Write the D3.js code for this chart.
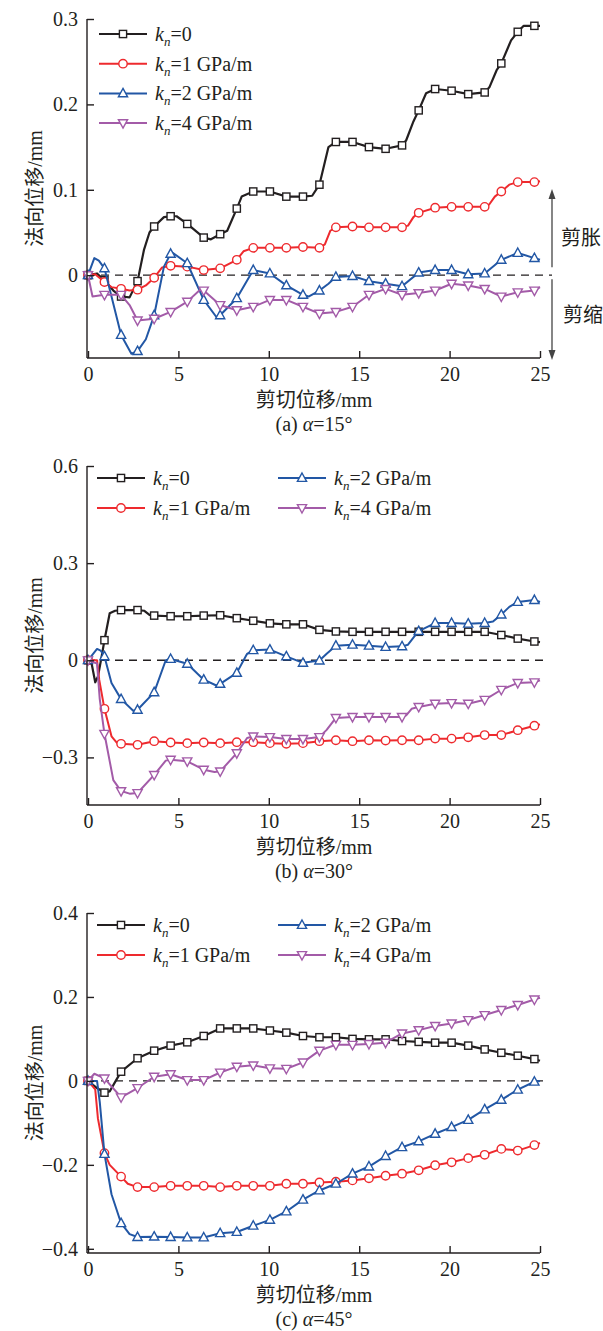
<!DOCTYPE html>
<html><head><meta charset="utf-8">
<script src="https://cdn.jsdelivr.net/npm/d3@7"></script>
<style>
html,body{margin:0;padding:0;background:#fff;}
</style></head>
<body><svg id="c" width="603" height="1331"></svg>
<script>
// shear displacement positions of markers (mm); last point is curve end
const xMarks = [0, 0.91, 1.83, 2.74, 3.66, 4.57, 5.49, 6.40, 7.31, 8.23, 9.14, 10.06, 10.97, 11.89, 12.80,
  13.71, 14.63, 15.54, 16.46, 17.37, 18.29, 19.20, 20.11, 21.03, 21.94, 22.86, 23.77, 24.69, 25];

const seriesNames = ["=0", "=1 GPa/m", "=2 GPa/m", "=4 GPa/m"];

// (a) alpha = 15°
const a_k0 = [0, -0.006, -0.025, -0.007, 0.057, 0.069, 0.060, 0.044, 0.048, 0.078, 0.098, 0.098, 0.092, 0.092, 0.106,
  0.156, 0.156, 0.150, 0.148, 0.152, 0.193, 0.218, 0.216, 0.212, 0.214, 0.248, 0.285, 0.292, 0.292];
const a_k0_detail = [[0.5,0.002],[1.4,-0.018],[2.3,-0.026],[3.1,0.03],[3.4,0.05],[4.2,0.068],[4.9,0.069],[6.8,0.042],
  [7.7,0.052],[8.5,0.092],[12.4,0.093],[13.3,0.15],[17.6,0.158],[18.0,0.18],[18.7,0.213],[22.2,0.22],[22.6,0.24],[23.4,0.275],[24.1,0.292]];
const a_k1 = [0, -0.008, -0.016, -0.017, -0.003, 0.011, 0.010, 0.006, 0.008, 0.018, 0.032, 0.032, 0.032, 0.033, 0.032,
  0.056, 0.057, 0.056, 0.056, 0.056, 0.073, 0.079, 0.080, 0.080, 0.080, 0.098, 0.109, 0.109, 0.110];
const a_k1_detail = [[0.4,0.001],[1.3,-0.014],[2.3,-0.018],[3.2,-0.012],[4.1,0.009],[8.6,0.028],[13.1,0.036],[13.4,0.052],
  [17.7,0.058],[18.0,0.068],[22.2,0.083],[22.5,0.092],[23.3,0.106]];
const a_k2 = [0, 0.008, -0.070, -0.089, -0.047, 0.025, 0.014, -0.029, -0.047, -0.027, 0.006, 0.002, -0.012, -0.023, -0.018,
  -0.002, -0.001, -0.007, -0.010, -0.013, 0.003, 0.006, 0.006, 0.001, 0.002, 0.018, 0.026, 0.020, 0.018];
const a_k2_detail = [[0.35,0.02],[0.6,0.017],[1.3,-0.025],[2.4,-0.092],[3.2,-0.075],[4.2,0.01],[4.7,0.026],[7.1,-0.049],[12.2,-0.025],[13.3,-0.01]];
const a_k4 = [0, -0.023, -0.023, -0.053, -0.051, -0.043, -0.031, -0.018, -0.035, -0.041, -0.037, -0.029, -0.029, -0.037, -0.045,
  -0.043, -0.037, -0.023, -0.016, -0.023, -0.021, -0.018, -0.010, -0.012, -0.016, -0.025, -0.020, -0.018, -0.014];
const a_k4_detail = [[0.25,-0.025],[2.3,-0.035],[6.2,-0.017]];

// (b) alpha = 30°
const b_k0 = [0, 0.062, 0.155, 0.155, 0.138, 0.136, 0.136, 0.138, 0.139, 0.130, 0.122, 0.114, 0.111, 0.111, 0.094,
  0.089, 0.088, 0.088, 0.088, 0.088, 0.088, 0.088, 0.088, 0.088, 0.088, 0.078, 0.067, 0.058, 0.056];
const b_k0_detail = [[0.2,-0.01],[0.4,-0.068],[0.55,-0.05],[0.75,0.01],[1.2,0.145],[1.5,0.153],[3.1,0.153],[3.4,0.14]];
const b_k1 = [0, -0.150, -0.258, -0.261, -0.250, -0.254, -0.256, -0.254, -0.256, -0.253, -0.253, -0.256, -0.258, -0.256, -0.250,
  -0.247, -0.250, -0.247, -0.248, -0.247, -0.247, -0.242, -0.242, -0.238, -0.231, -0.231, -0.216, -0.202, -0.198];
const b_k1_detail = [[0.5,0.0],[0.62,-0.06],[1.3,-0.235],[1.6,-0.255]];
const b_k2 = [0, 0.012, -0.120, -0.153, -0.099, 0.004, -0.011, -0.060, -0.073, -0.039, 0.031, 0.033, 0.012, -0.008, -0.001,
  0.045, 0.048, 0.045, 0.041, 0.043, 0.090, 0.115, 0.115, 0.113, 0.115, 0.141, 0.180, 0.186, 0.180];
const b_k2_detail = [[0.5,0.035],[0.7,0.03],[1.3,-0.07],[2.5,-0.156],[4.3,0.0],[7.1,-0.078],[8.8,0.02],[13.2,0.02],
  [17.7,0.048],[18.0,0.07],[22.4,0.12],[23.3,0.165]];
const b_k4 = [0, -0.227, -0.404, -0.410, -0.354, -0.307, -0.312, -0.338, -0.343, -0.287, -0.235, -0.237, -0.243, -0.243, -0.237,
  -0.178, -0.175, -0.175, -0.175, -0.175, -0.144, -0.134, -0.132, -0.134, -0.122, -0.091, -0.070, -0.068, -0.062];
const b_k4_detail = [[0.5,-0.01],[0.65,-0.12],[1.4,-0.37],[2.3,-0.412],[4.3,-0.31],[7.0,-0.345],[8.8,-0.24],[13.2,-0.215],[17.6,-0.17],[17.9,-0.15]];

// (c) alpha = 45°
const c_k0 = [0, -0.028, 0.022, 0.054, 0.072, 0.084, 0.092, 0.107, 0.125, 0.125, 0.125, 0.120, 0.115, 0.107, 0.104,
  0.104, 0.100, 0.099, 0.099, 0.095, 0.093, 0.091, 0.091, 0.084, 0.075, 0.067, 0.060, 0.052, 0.048];
const c_k0_detail = [[0.5,-0.017],[1.2,-0.025]];
const c_k1 = [0, -0.172, -0.228, -0.253, -0.253, -0.250, -0.250, -0.250, -0.253, -0.250, -0.250, -0.250, -0.245, -0.245, -0.242,
  -0.240, -0.237, -0.232, -0.226, -0.221, -0.213, -0.201, -0.194, -0.184, -0.176, -0.162, -0.166, -0.153, -0.148];
const c_k1_detail = [[0.4,-0.02],[0.55,-0.09],[1.2,-0.2],[2.2,-0.245]];
const c_k2 = [0, -0.174, -0.339, -0.372, -0.371, -0.372, -0.373, -0.373, -0.363, -0.360, -0.345, -0.331, -0.311, -0.283, -0.261,
  -0.245, -0.221, -0.204, -0.179, -0.158, -0.144, -0.126, -0.110, -0.093, -0.068, -0.045, -0.021, -0.002, 0.0];
const c_k2_detail = [[0.5,0.0],[0.65,-0.05],[1.3,-0.27],[2.3,-0.365]];
const c_k4 = [0, 0.006, -0.039, -0.017, 0.010, 0.016, 0.002, 0.002, 0.020, 0.034, 0.037, 0.030, 0.029, 0.044, 0.072,
  0.086, 0.086, 0.088, 0.091, 0.113, 0.121, 0.131, 0.137, 0.145, 0.157, 0.169, 0.181, 0.194, 0.198];
const c_k4_detail = [[0.35,0.017]];

const xTicks = [0, 5, 10, 15, 20, 25];
const aTicks = [0, 0.1, 0.2, 0.3];
const bTicks = [-0.3, 0, 0.3, 0.6];
const cTicks = [-0.4, -0.2, 0, 0.2, 0.4];

const colors = ["#231f20", "#ee2a2e", "#2257a5", "#a35ba8"];
const markerTypes = ["square", "circle", "up", "down"];

const panels = [
  {top: 19, bottom: 358, yDomain: [-0.097, 0.3], ticks: aTicks, letter: "a", angle: "15",
   series: [[a_k0, a_k0_detail], [a_k1, a_k1_detail], [a_k2, a_k2_detail], [a_k4, a_k4_detail]],
   legend: "column", arrows: true},
  {top: 466, bottom: 805, yDomain: [-0.447, 0.6], ticks: bTicks, letter: "b", angle: "30",
   series: [[b_k0, b_k0_detail], [b_k1, b_k1_detail], [b_k2, b_k2_detail], [b_k4, b_k4_detail]],
   legend: "grid"},
  {top: 913, bottom: 1253, yDomain: [-0.41, 0.4], ticks: cTicks, letter: "c", angle: "45",
   series: [[c_k0, c_k0_detail], [c_k1, c_k1_detail], [c_k2, c_k2_detail], [c_k4, c_k4_detail]],
   legend: "grid"}
];

const SERIF = "'Liberation Serif', 'DejaVu Serif', serif";
const CJK = "'Liberation Serif', 'Noto Sans CJK SC', sans-serif";
const TXT = "#231f20";

const svg = d3.select("#c");
const axisColor = "#231f20";
const X0 = 88, X1 = 540, YAX = 87;

function drawMarker(g, type, cx, cy, color) {
  if (type === "square") {
    g.append("rect").attr("x", cx - 3.6).attr("y", cy - 3.6).attr("width", 7.2).attr("height", 7.2)
      .attr("fill", "#fff").attr("stroke", color).attr("stroke-width", 1.4);
  } else if (type === "circle") {
    g.append("circle").attr("cx", cx).attr("cy", cy).attr("r", 4.2)
      .attr("fill", "#fff").attr("stroke", color).attr("stroke-width", 1.4);
  } else {
    const s = type === "up" ? 1 : -1;
    const p = d3.path();
    p.moveTo(cx, cy - s * 5.0);
    p.lineTo(cx + 4.6, cy + s * 3.4);
    p.lineTo(cx - 4.6, cy + s * 3.4);
    p.closePath();
    g.append("path").attr("d", p.toString())
      .attr("fill", "#fff").attr("stroke", color).attr("stroke-width", 1.4);
  }
}

function legendEntry(g, lx, ly, i, fs) {
  g.append("line").attr("x1", lx).attr("x2", lx + 48).attr("y1", ly).attr("y2", ly)
    .attr("stroke", colors[i]).attr("stroke-width", 2);
  drawMarker(g, markerTypes[i], lx + 24, ly, colors[i]);
  const t = g.append("text").attr("x", lx + 56).attr("y", ly + 7)
    .style("font-family", SERIF).style("font-size", fs + "px").style("fill", TXT);
  t.append("tspan").style("font-style", "italic").text("k");
  t.append("tspan").style("font-style", "italic").style("font-size", "13px").attr("dy", 5).text("n");
  t.append("tspan").attr("dy", -5).text(seriesNames[i]);
}

panels.forEach(P => {
  const g = svg.append("g");
  const x = d3.scaleLinear().domain([0, 25]).range([X0, X1]);
  const y = d3.scaleLinear().domain(P.yDomain).range([P.bottom, P.top]);

  // zero dashed line
  g.append("line").attr("x1", YAX).attr("x2", P.arrows ? 552 : 548)
    .attr("y1", y(0)).attr("y2", y(0))
    .attr("stroke", axisColor).attr("stroke-width", 1.4).attr("stroke-dasharray", "8,6");

  // series
  P.series.forEach((s, i) => {
    const vals = s[0], detail = s[1];
    const pts = vals.map((v, k) => [xMarks[k], v]).concat(detail).sort((p, q) => p[0] - q[0]);
    const line = d3.line().x(d => x(d[0])).y(d => y(d[1]));
    g.append("path").attr("d", line(pts)).attr("fill", "none")
      .attr("stroke", colors[i]).attr("stroke-width", i === 0 ? 2.2 : 2).attr("stroke-linejoin", "round");
    vals.forEach((v, k) => {
      if (k < vals.length - 1) drawMarker(g, markerTypes[i], x(xMarks[k]), y(v), colors[i]);
    });
  });

  // axes
  g.append("line").attr("x1", YAX).attr("x2", YAX).attr("y1", P.top).attr("y2", P.bottom)
    .attr("stroke", axisColor).attr("stroke-width", 1.4);
  g.append("line").attr("x1", YAX).attr("x2", X1).attr("y1", P.bottom).attr("y2", P.bottom)
    .attr("stroke", axisColor).attr("stroke-width", 1.4);
  const yAxis = g.append("g").attr("transform", `translate(${YAX},0)`)
    .call(d3.axisLeft(y).tickValues(P.ticks).tickSizeInner(-7).tickSizeOuter(0).tickPadding(9)
      .tickFormat(d => d === 0 ? "0" : d3.format(".1f")(d)));
  yAxis.select(".domain").remove();
  yAxis.selectAll(".tick line").attr("stroke", axisColor).attr("stroke-width", 1.4);
  yAxis.selectAll(".tick text").style("font-size", "20px").style("font-family", SERIF).style("fill", TXT);
  const xAxis = g.append("g").attr("transform", `translate(0,${P.bottom})`)
    .call(d3.axisBottom(x).tickValues(xTicks).tickSizeInner(-7).tickSizeOuter(0).tickPadding(9).tickFormat(d3.format("d")));
  xAxis.select(".domain").remove();
  xAxis.selectAll(".tick line").attr("stroke", axisColor).attr("stroke-width", 1.4);
  xAxis.selectAll(".tick text").style("font-size", "20px").style("font-family", SERIF).style("fill", TXT);

  // axis titles
  g.append("text").style("font-family", CJK).style("font-size", "20px").style("fill", TXT).attr("text-anchor", "middle")
    .attr("transform", `translate(42,${(P.top + P.bottom) / 2}) rotate(-90)`).text("法向位移/mm");
  g.append("text").style("font-family", CJK).style("font-size", "20px").style("fill", TXT).attr("text-anchor", "middle")
    .attr("x", (X0 + X1) / 2).attr("y", P.bottom + 49).text("剪切位移/mm");
  const cap = g.append("text").style("font-family", SERIF).style("font-size", "20px").style("fill", TXT)
    .attr("text-anchor", "middle").attr("x", (X0 + X1) / 2).attr("y", P.bottom + 73);
  cap.append("tspan").text(`(${P.letter}) `);
  cap.append("tspan").style("font-style", "italic").text("α");
  cap.append("tspan").text(`=${P.angle}°`);

  // legend
  if (P.legend === "column") {
    [0, 1, 2, 3].forEach(i => legendEntry(g, 99, P.top + 15 + i * 29.7, i, 20));
  } else {
    const pos = [[97, 0], [97, 1], [278, 0], [278, 1]];
    pos.forEach((p, i) => legendEntry(g, p[0], P.top + 12 + p[1] * 30, i, 20));
  }

  // dilation / contraction arrows
  if (P.arrows) {
    const ax = 552;
    const up = d3.path(); up.moveTo(ax, y(0) - 8); up.lineTo(ax, 196);
    g.append("path").attr("d", up.toString()).attr("stroke", "#444").attr("stroke-width", 1.3);
    g.append("path").attr("d", `M${ax},189 L${ax - 3.5},199 L${ax + 3.5},199 Z`).attr("fill", "#444");
    const dn = d3.path(); dn.moveTo(ax, y(0) + 4); dn.lineTo(ax, 352);
    g.append("path").attr("d", dn.toString()).attr("stroke", "#444").attr("stroke-width", 1.3);
    g.append("path").attr("d", `M${ax},360 L${ax - 3.5},350 L${ax + 3.5},350 Z`).attr("fill", "#444");
    g.append("text").style("font-family", CJK).style("font-size", "20px").style("fill", TXT)
      .attr("x", 561).attr("y", 245).text("剪胀");
    g.append("text").style("font-family", CJK).style("font-size", "20px").style("fill", TXT)
      .attr("x", 563).attr("y", 322).text("剪缩");
  }
});
</script></body></html>
